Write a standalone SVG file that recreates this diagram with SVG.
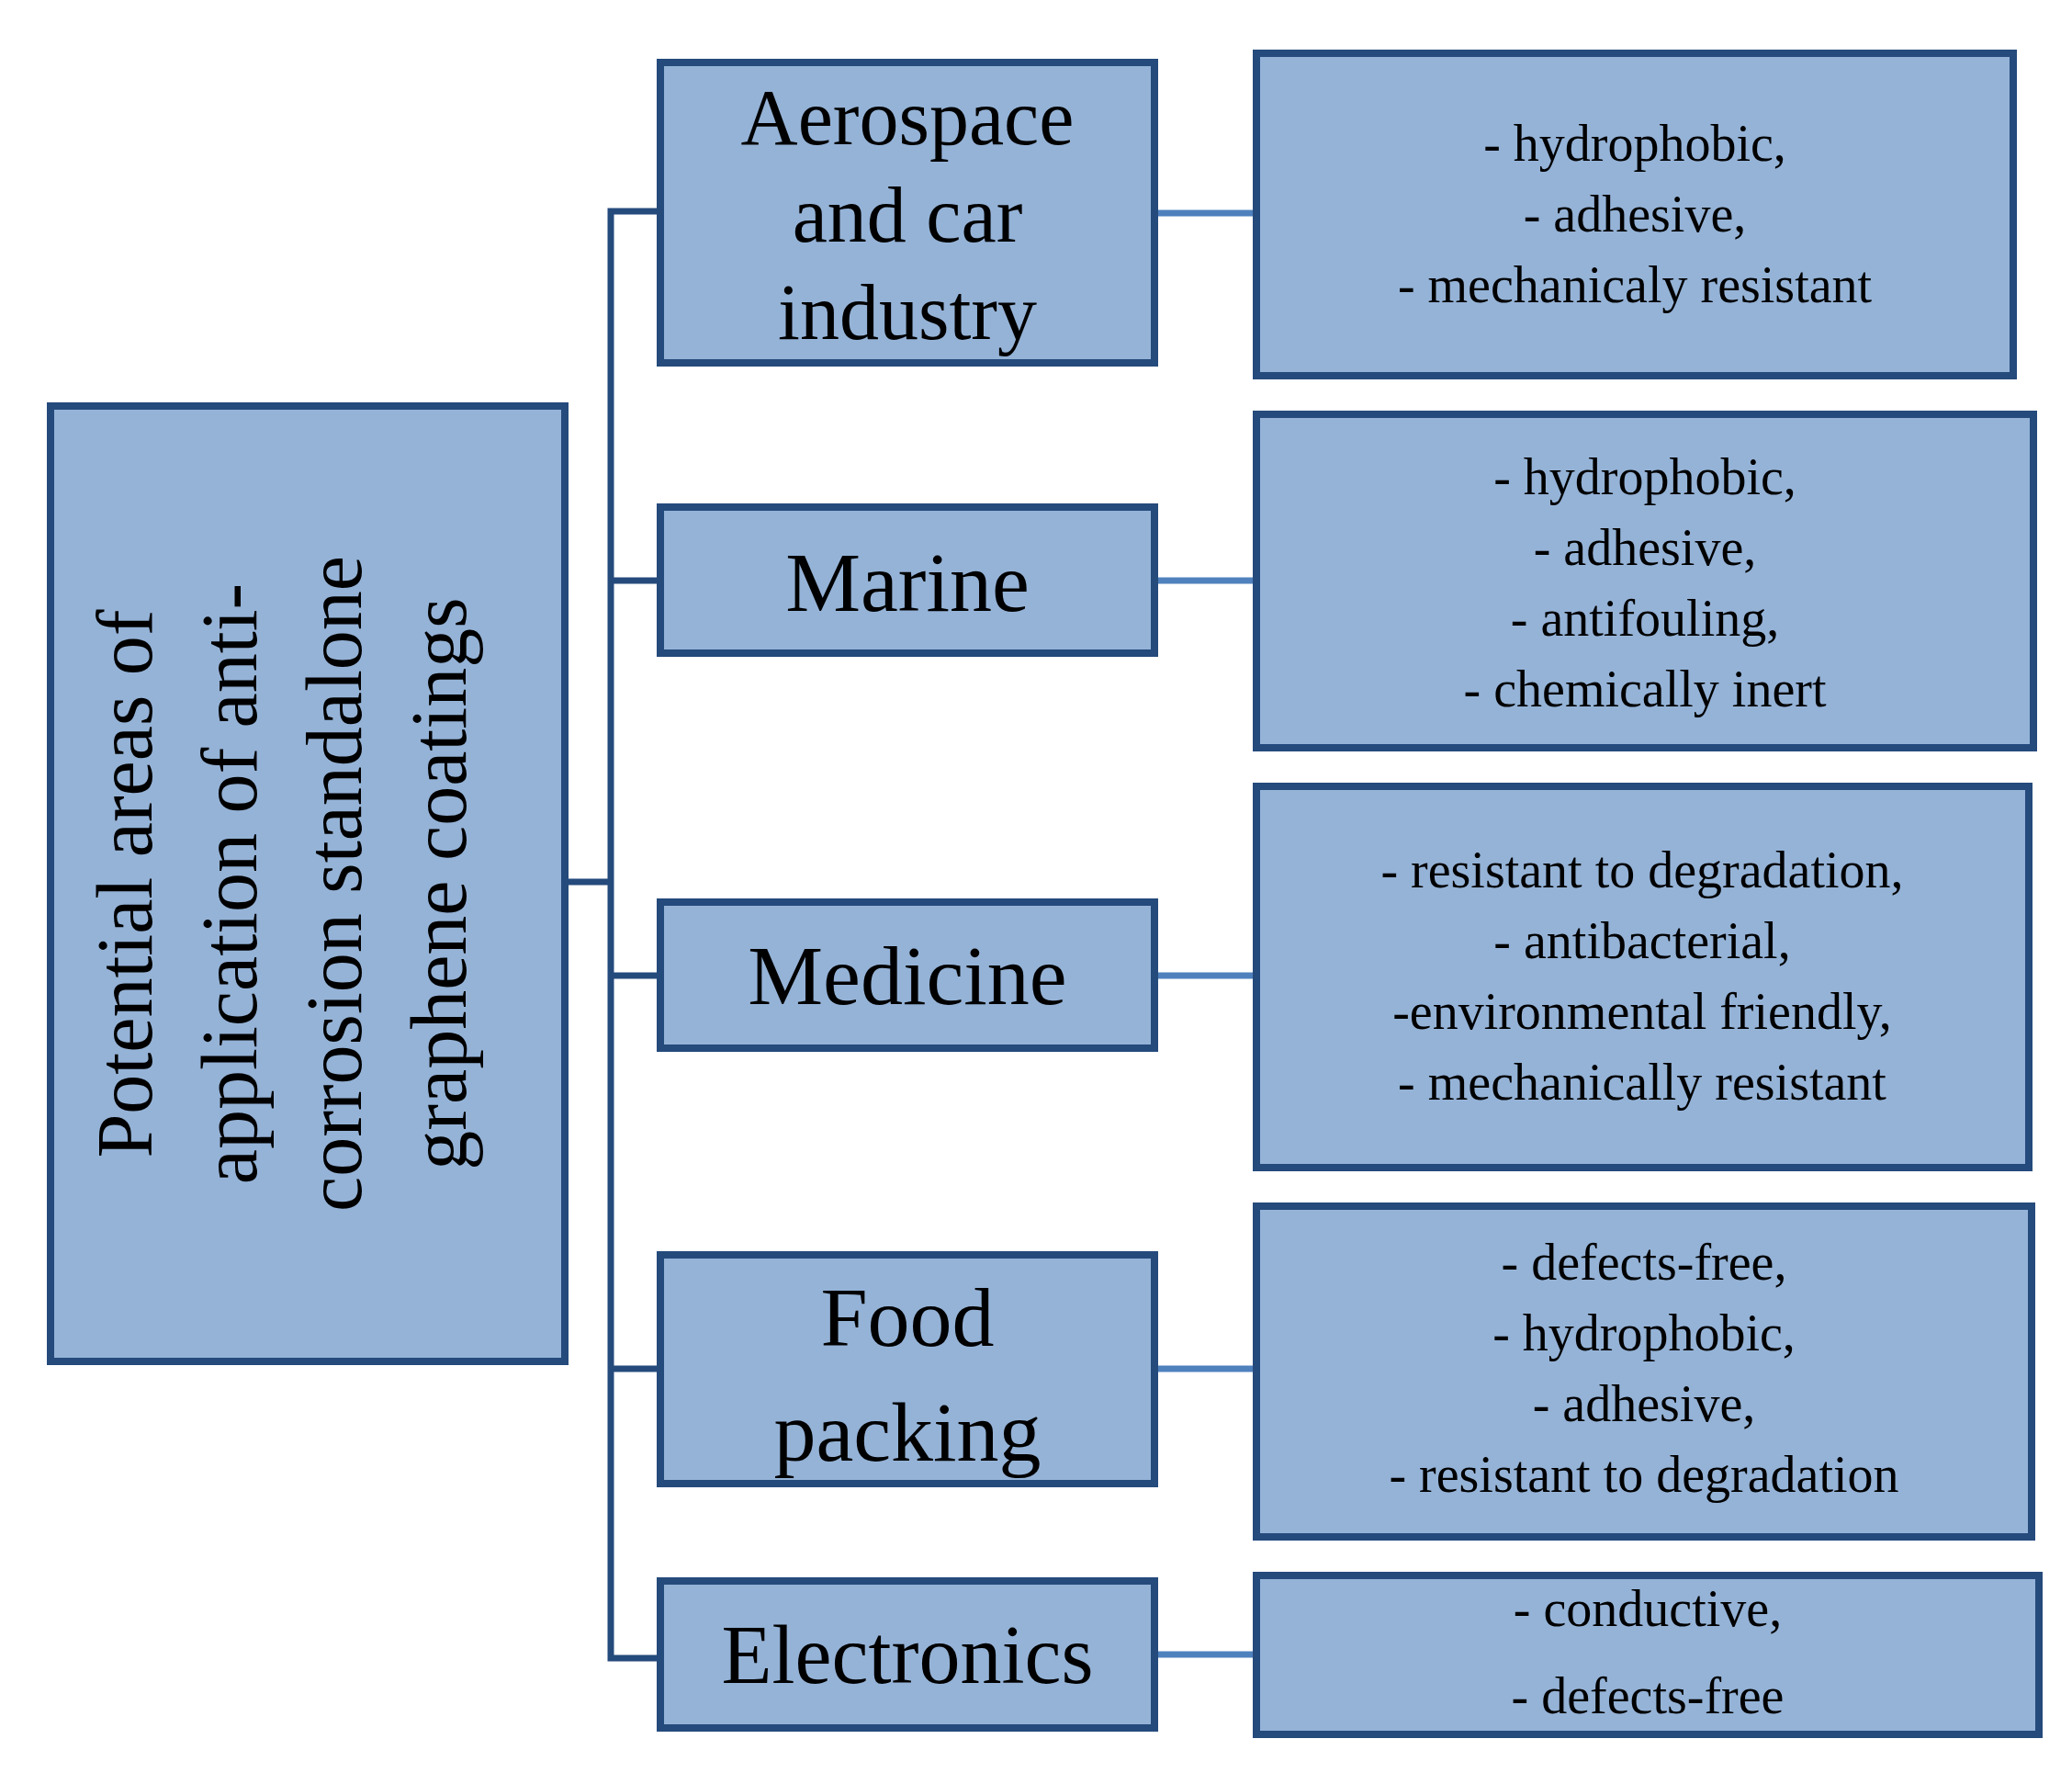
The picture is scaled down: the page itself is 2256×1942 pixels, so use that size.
<svg xmlns="http://www.w3.org/2000/svg" width="2256" height="1942" viewBox="0 0 2256 1942">
<style>
.b{fill:#95b3d7;stroke:#254a7c;stroke-width:8}
.t{font-family:"Liberation Serif","DejaVu Serif",serif;fill:#000;text-anchor:middle}
.m{font-size:86px}
.r{font-size:56px}
.trunk{stroke:#254a7c;stroke-width:7;fill:none}
.c{stroke:#4f81bd;stroke-width:7;fill:none}
</style>
<rect width="2256" height="1942" fill="#fff"/>
<g id="connectors">
<path class="trunk" d="M619 960H665M719 230H665V1805H719M665 632H719M665 1062H719M665 1490H719"/>
<path class="c" d="M1257 232H1368M1257 632H1368M1257 1062H1368M1257 1490H1368M1257 1801H1368"/>
</g>
<g id="root"><rect class="b" x="55" y="442" width="560" height="1040"/>
<text class="t m" transform="translate(335 962) rotate(-90)"><tspan x="0" y="-170">Potential areas of</tspan><tspan x="0" y="-56">application of anti-</tspan><tspan x="0" y="58">corrosion standalone</tspan><tspan x="0" y="172">graphene coatings</tspan></text></g>
<g id="aero"><rect class="b" x="719" y="68" width="538" height="327"/>
<text class="t m"><tspan x="988" y="157">Aerospace</tspan><tspan x="988" y="263">and car</tspan><tspan x="988" y="369">industry</tspan></text></g>
<g id="marine"><rect class="b" x="719" y="552" width="538" height="159"/>
<text class="t" font-size="92" x="988" y="665">Marine</text></g>
<g id="medicine"><rect class="b" x="719" y="982" width="538" height="159"/>
<text class="t" font-size="92" x="988" y="1093">Medicine</text></g>
<g id="food"><rect class="b" x="719" y="1366" width="538" height="249"/>
<text class="t" font-size="92"><tspan x="988" y="1465">Food</tspan><tspan x="988" y="1590">packing</tspan></text></g>
<g id="electronics"><rect class="b" x="719" y="1721" width="538" height="160"/>
<text class="t" font-size="90" x="988" y="1832">Electronics</text></g>
<g id="p1"><rect class="b" x="1368" y="58" width="824" height="351"/>
<text class="t r"><tspan x="1780" y="175">- hydrophobic,</tspan><tspan x="1780" y="252">- adhesive,</tspan><tspan x="1780" y="329">- mechanicaly resistant</tspan></text></g>
<g id="p2"><rect class="b" x="1368" y="451" width="846" height="363"/>
<text class="t r"><tspan x="1791" y="538">- hydrophobic,</tspan><tspan x="1791" y="615">- adhesive,</tspan><tspan x="1791" y="692">- antifouling,</tspan><tspan x="1791" y="769">- chemically inert</tspan></text></g>
<g id="p3"><rect class="b" x="1368" y="856" width="841" height="415"/>
<text class="t r"><tspan x="1788" y="966">- resistant to degradation,</tspan><tspan x="1788" y="1043">- antibacterial,</tspan><tspan x="1788" y="1120">-environmental friendly,</tspan><tspan x="1788" y="1197">- mechanically resistant</tspan></text></g>
<g id="p4"><rect class="b" x="1368" y="1313" width="844" height="360"/>
<text class="t r"><tspan x="1790" y="1393">- defects-free,</tspan><tspan x="1790" y="1470">- hydrophobic,</tspan><tspan x="1790" y="1547">- adhesive,</tspan><tspan x="1790" y="1624">- resistant to degradation</tspan></text></g>
<g id="p5"><rect class="b" x="1368" y="1715" width="852" height="173"/>
<text class="t r"><tspan x="1794" y="1770">- conductive,</tspan><tspan x="1794" y="1865">- defects-free</tspan></text></g>
</svg>
